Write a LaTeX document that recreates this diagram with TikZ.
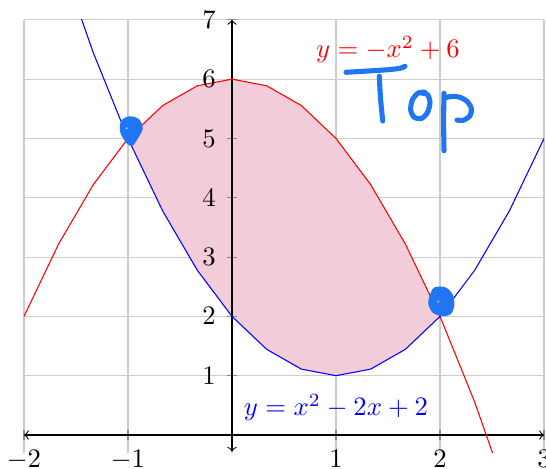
\documentclass[tikz,border=0pt]{standalone}
\definecolor{pen}{RGB}{31,117,242}
\tikzset{
  gridline/.style={gray!40, line width=0.4pt},
  tickmark/.style={black!45, line width=0.4pt},
  axisline/.style={black, line width=0.4pt, <->},
  curve/.style={line width=0.4pt, line join=round},
  ink/.style={pen, line width=1.9pt, line cap=round, line join=round},
  blob/.style={fill=pen, draw=pen, line width=0.8pt, line join=round},
  ticklabel/.style={inner sep=0pt}
}
\begin{document}
\begin{tikzpicture}[x=0.3745pt, y=-0.3745pt]
\useasboundingbox (0,0) rectangle (546,468);
\begin{scope}[shift={(232,435)}, x=38.95pt, y=22.21pt]
  % grid
  \foreach \gx in {-2,...,3} \draw[gridline] (\gx,-0.3) -- (\gx,7);
  \foreach \gy in {1,...,7} \draw[gridline] (-2,\gy) -- (3,\gy);
  % shaded region
  \fill[purple!20] plot[domain=-1:2, samples=10] (\x,{6-\x*\x})
     -- plot[domain=2:-1, samples=10] (\x,{\x*\x-2*\x+2}) -- cycle;
  % ticks
  \foreach \gx in {-2,-1,1,2,3} \draw[tickmark] (\gx,0) ++(0,-1.9pt) -- ++(0,3.8pt);
  \foreach \gy in {1,...,7} \draw[tickmark] (0,\gy) ++(-1.9pt,0) -- ++(3.8pt,0);
  % axes
  \coordinate (xl) at (-2,0);
  \coordinate (xr) at (3,0);
  \coordinate (yb) at (0,-0.28);
  \coordinate (yt) at (0,7);
  \draw[axisline] (xl) -- (xr);
  \draw[axisline] (yb) -- (yt);
  % curves
  \begin{scope}
    \clip (-2,-0.3) rectangle (3,7);
    \draw[curve, red] plot[domain=-2:3, samples=16] (\x,{6-\x*\x});
    \draw[curve, blue] plot[domain=-2:3, samples=16] (\x,{\x*\x-2*\x+2});
  \end{scope}
  % tick labels
  \foreach \gx/\nm in {-2/xa,-1/xb,1/xc,2/xd,3/xe}
    \node[ticklabel, anchor=north] (\nm) at (\gx,-0.25) {$\gx$};
  \foreach \gy in {1,...,7}
    \node[ticklabel, anchor=east] (ylab\gy) at ([xshift=-5.9pt]0,\gy) {$\gy$};
  % curve labels
  \node[red] (lred) at (1.5,6.5) {$y=-x^2+6$};
  \node[blue] (lblue) at (1,0.46) {$y=x^2-2x+2$};
\end{scope}
% handwritten annotations (pixel coordinates)
\draw[ink] plot[smooth] coordinates {(346,72.3) (360,71.5) (373,70.7) (388,69.7) (400,68.3) (405,66.3)};
\draw[ink] plot[smooth] coordinates {(379.3,76.3) (380.5,98) (382.7,121)};
\draw[ink] plot[smooth] coordinates {(425,92.3) (418.3,93) (412.3,100) (410.7,110) (414.3,117.3) (421.7,118.3) (427.7,112) (430,102) (427.3,94.5) (421,93)};
\draw[ink] plot[smooth] coordinates {(444,93.3) (443.6,120) (444,150.7)};
\draw[ink] plot[smooth] coordinates {(445.3,97.7) (452,96.3) (460,97.3) (467,101.3) (471.3,108.3) (470,115.7) (463.3,120.3) (457,120)};
% dots at the intersection points
\filldraw[blob] plot[smooth cycle] coordinates {(123.3,120) (130,117.3) (138.3,120) (141.7,128.3) (136.7,138.3) (131.7,145) (126.7,141.7) (121.7,133.3) (121,125)};
\filldraw[blob] plot[smooth cycle] coordinates {(435,288.3) (445,288.3) (451.7,295) (453.3,305) (450,313.3) (441.7,315) (433.3,311.7) (429.3,303.3) (431.7,293.3)};
\fill[pen!45] (126.7,128.3) circle (1.2);
\fill[pen!45] (438.3,301.7) circle (1.2);
\end{tikzpicture}
\end{document}
